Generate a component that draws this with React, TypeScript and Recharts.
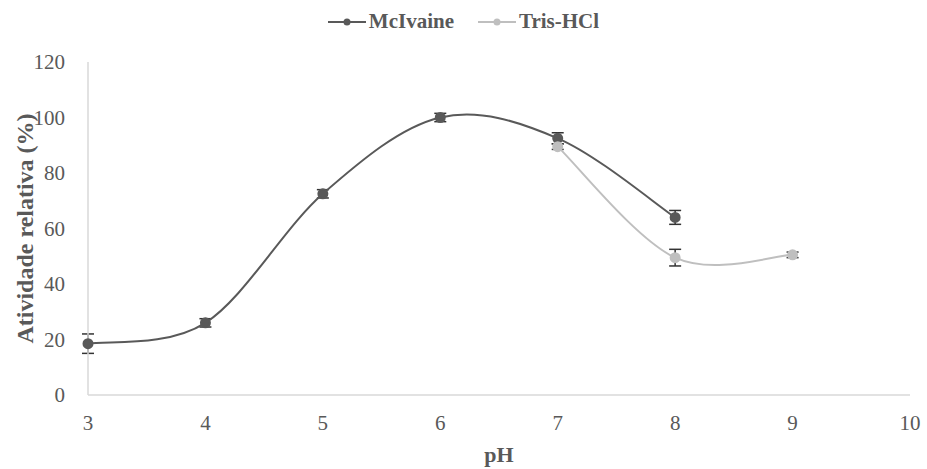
import { LineChart, Line, XAxis, YAxis, ErrorBar, Legend, Label } from "recharts";

// pH sweep in McIlvaine buffer
const phMcIlvaine = [3, 4, 5, 6, 7, 8];
const actMcIlvaine = [18.5, 26, 72.5, 100, 92.5, 64];
const errMcIlvaine = [3.5, 1.5, 1.5, 1.5, 2, 2.5];

// pH sweep in Tris-HCl buffer
const phTris = [7, 8, 9];
const actTris = [89.5, 49.5, 50.5];
const errTris = [1, 3, 1];

const xTicks = [3, 4, 5, 6, 7, 8, 9, 10];
const yTicks = [0, 20, 40, 60, 80, 100, 120];

const mcData = phMcIlvaine.map((ph, i) => ({ ph, act: actMcIlvaine[i], err: errMcIlvaine[i] }));
const trisData = phTris.map((ph, i) => ({ ph, act: actTris[i], err: errTris[i] }));

const FONT = "Liberation Serif";
const DARK = "#595959";
const LIGHT = "#bfbfbf";

const series = [
  { name: "McIvaine", color: DARK },
  { name: "Tris-HCl", color: LIGHT },
];

// spreadsheet-style smoothed line (uniform Catmull-Rom as cubic Béziers)
function smoothCurve(context: any) {
  let pts: [number, number][] = [];
  return {
    areaStart() {},
    areaEnd() {},
    lineStart() {
      pts = [];
    },
    point(x: number, y: number) {
      pts.push([+x, +y]);
    },
    lineEnd() {
      if (!pts.length) return;
      context.moveTo(pts[0][0], pts[0][1]);
      for (let i = 0; i < pts.length - 1; i++) {
        const p0 = pts[i - 1] || pts[i];
        const p1 = pts[i];
        const p2 = pts[i + 1];
        const p3 = pts[i + 2] || p2;
        context.bezierCurveTo(
          p1[0] + (p2[0] - p0[0]) / 6,
          p1[1] + (p2[1] - p0[1]) / 6,
          p2[0] - (p3[0] - p1[0]) / 6,
          p2[1] - (p3[1] - p1[1]) / 6,
          p2[0],
          p2[1]
        );
      }
    },
  };
}

function LegendBox() {
  return (
    <div style={{ display: "flex", justifyContent: "center", gap: 24, fontFamily: FONT, paddingLeft: 12 }}>
      {series.map((s) => (
        <div key={s.name} style={{ display: "flex", alignItems: "center", gap: 3 }}>
          <svg width={38} height={10}>
            <line x1={0} y1={5} x2={38} y2={5} stroke={s.color} strokeWidth={2} />
            <circle cx={19} cy={5} r={3.5} fill={s.color} />
          </svg>
          <span style={{ fontWeight: "bold", fontSize: 21, color: DARK }}>{s.name}</span>
        </div>
      ))}
    </div>
  );
}

export default function App() {
  return (
    <div style={{ position: "absolute", left: 0, top: 0, background: "#fff" }}>
      <LineChart width={927} height={469} margin={{ top: 10, right: 17, bottom: 10, left: 5 }}>
        <Legend verticalAlign="top" content={() => <LegendBox />} wrapperStyle={{ top: 9 }} height={52} />
        <XAxis
          type="number"
          dataKey="ph"
          domain={[3, 10]}
          ticks={xTicks}
          allowDuplicatedCategory={false}
          axisLine={{ stroke: "#d9d9d9", strokeWidth: 1.5 }}
          tickLine={false}
          tickMargin={14}
          tick={{ fill: DARK, fontSize: 21, fontFamily: FONT }}
          height={64}
        >
          <Label value="pH" position="insideBottom" offset={-3} style={{ fill: DARK, fontSize: 22, fontWeight: "bold", fontFamily: FONT }} />
        </XAxis>
        <YAxis
          type="number"
          domain={[0, 120]}
          ticks={yTicks}
          axisLine={{ stroke: "#d9d9d9", strokeWidth: 1.5 }}
          tickLine={false}
          tickMargin={17}
          tick={{ fill: DARK, fontSize: 21, fontFamily: FONT }}
          width={83}
        >
          <Label
            value="Atividade relativa (%)"
            angle={-90}
            position="insideLeft"
            offset={19}
            style={{ textAnchor: "middle", fill: DARK, fontSize: 24, fontWeight: "bold", fontFamily: FONT }}
          />
        </YAxis>
        <Line
          data={mcData}
          dataKey="act"
          name="McIvaine"
          type={smoothCurve as any}
          stroke={DARK}
          strokeWidth={2}
          dot={{ r: 4.5, fill: DARK, stroke: DARK }}
          isAnimationActive={false}
        >
          <ErrorBar dataKey="err" width={6} stroke="#333" strokeWidth={1.5} direction="y" />
        </Line>
        <Line
          data={trisData}
          dataKey="act"
          name="Tris-HCl"
          type={smoothCurve as any}
          stroke={LIGHT}
          strokeWidth={2}
          dot={{ r: 4.5, fill: LIGHT, stroke: LIGHT }}
          isAnimationActive={false}
        >
          <ErrorBar dataKey="err" width={6} stroke="#333" strokeWidth={1.5} direction="y" />
        </Line>
      </LineChart>
    </div>
  );
}
